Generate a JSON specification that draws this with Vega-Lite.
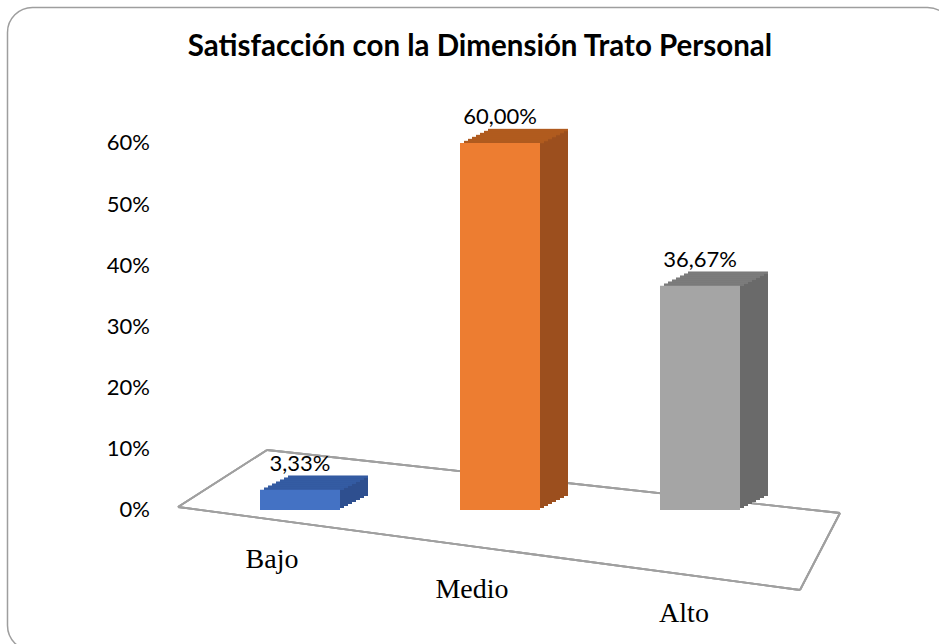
{
  "$schema": "https://vega.github.io/schema/vega-lite/v6.json",
  "width": 945,
  "height": 643,
  "autosize": "none",
  "padding": {"left": 7.5, "top": 7.5, "right": 0, "bottom": 0},
  "background": "white",
  "config": {
    "view": {"stroke": "#9e9e9e", "strokeWidth": 1.5, "cornerRadius": 25, "fill": "white"},
    "locale": {"number": {"decimal": ",", "thousands": ".", "grouping": [3], "currency": ["", " €"]}}
  },
  "title": {
    "text": "Satisfacción con la Dimensión Trato Personal",
    "font": "Lato",
    "fontSize": 29.5,
    "fontWeight": "bold",
    "color": "#000000",
    "anchor": "middle",
    "frame": "group",
    "baseline": "middle",
    "offset": -69
  },
  "data": {
    "values": [
      {"cat": "Bajo", "v": 0.0333},
      {"cat": "Medio", "v": 0.6},
      {"cat": "Alto", "v": 0.3667}
    ]
  },
  "encoding": {
    "x": {
      "field": "cat",
      "type": "nominal",
      "scale": {"domain": ["Bajo", "Medio", "Alto"], "paddingInner": 0.275, "paddingOuter": 1, "align": 0.55},
      "axis": {
        "title": null,
        "domain": false,
        "ticks": false,
        "labelAngle": 0,
        "offset": -105,
        "labelFont": "Liberation Serif",
        "labelFontSize": 28,
        "labelColor": "#000000",
        "labelBaseline": "top",
        "labelOffset": {"condition": {"test": "datum.value === 'Alto'", "value": -16}, "value": -28},
        "labelPadding": {"condition": [{"test": "datum.value === 'Medio'", "value": 30}, {"test": "datum.value === 'Alto'", "value": 54}], "value": 0}
      }
    },
    "y": {
      "field": "v",
      "type": "quantitative",
      "scale": {"domain": [-0.2297, 0.8215], "nice": false, "zero": false},
      "axis": {
        "values": [0, 0.1, 0.2, 0.3, 0.4, 0.5, 0.6],
        "format": ".0%",
        "domain": false,
        "ticks": false,
        "grid": false,
        "title": null,
        "offset": -146,
        "labelPadding": 4,
        "labelFont": "Lato",
        "labelFontSize": 22,
        "labelColor": "#000000"
      }
    }
  },
  "layer": [
    {"mark": {"type": "rule", "color": "#a0a0a0", "strokeWidth": 1.8, "xOffset": -122, "x2Offset": 100, "yOffset": -3, "y2Offset": 80},
     "encoding": {"x": {"datum": "Bajo", "type": "nominal"}, "x2": {"datum": "Alto"}, "y": {"datum": 0, "type": "quantitative"}, "y2": {"datum": 0}}},
    {"mark": {"type": "rule", "color": "#a0a0a0", "strokeWidth": 1.8, "xOffset": -33, "x2Offset": 140, "yOffset": -60, "y2Offset": 3},
     "encoding": {"x": {"datum": "Bajo", "type": "nominal"}, "x2": {"datum": "Alto"}, "y": {"datum": 0, "type": "quantitative"}, "y2": {"datum": 0}}},
    {"mark": {"type": "rule", "color": "#a0a0a0", "strokeWidth": 1.8, "xOffset": -122, "x2Offset": -33, "yOffset": -3, "y2Offset": -60},
     "encoding": {"x": {"datum": "Bajo", "type": "nominal"}, "x2": {"datum": "Bajo"}, "y": {"datum": 0, "type": "quantitative"}, "y2": {"datum": 0}}},
    {"mark": {"type": "rule", "color": "#a0a0a0", "strokeWidth": 1.8, "xOffset": 100, "x2Offset": 140, "yOffset": 80, "y2Offset": 3},
     "encoding": {"x": {"datum": "Alto", "type": "nominal"}, "x2": {"datum": "Alto"}, "y": {"datum": 0, "type": "quantitative"}, "y2": {"datum": 0}}},
    {
      "encoding": {"color": {"field": "cat", "type": "nominal", "scale": {"domain": ["Bajo", "Medio", "Alto"], "range": ["#2E4F8F", "#9C4F1E", "#6A6A6A"]}, "legend": null}},
      "layer": [
        {"mark": {"type": "bar", "width": 80, "xOffset": 4, "yOffset": -2, "y2Offset": -2}},
        {"mark": {"type": "bar", "width": 80, "xOffset": 8, "yOffset": -4, "y2Offset": -4}},
        {"mark": {"type": "bar", "width": 80, "xOffset": 12, "yOffset": -6, "y2Offset": -6}},
        {"mark": {"type": "bar", "width": 80, "xOffset": 16, "yOffset": -8, "y2Offset": -8}},
        {"mark": {"type": "bar", "width": 80, "xOffset": 20, "yOffset": -10, "y2Offset": -10}},
        {"mark": {"type": "bar", "width": 80, "xOffset": 24, "yOffset": -12, "y2Offset": -12}},
        {"mark": {"type": "bar", "width": 80, "xOffset": 28, "yOffset": -14, "y2Offset": -14}}
      ]
    },
    {
      "encoding": {"color": {"field": "cat", "type": "nominal", "scale": {"domain": ["Bajo", "Medio", "Alto"], "range": ["#365FA8", "#B8601F", "#828282"]}, "legend": null}},
      "layer": [
        {"mark": {"type": "tick", "size": 80, "thickness": 2.5, "xOffset": 4, "yOffset": -1}},
        {"mark": {"type": "tick", "size": 80, "thickness": 2.5, "xOffset": 8, "yOffset": -3}},
        {"mark": {"type": "tick", "size": 80, "thickness": 2.5, "xOffset": 12, "yOffset": -5}},
        {"mark": {"type": "tick", "size": 80, "thickness": 2.5, "xOffset": 16, "yOffset": -7}},
        {"mark": {"type": "tick", "size": 80, "thickness": 2.5, "xOffset": 20, "yOffset": -9}},
        {"mark": {"type": "tick", "size": 80, "thickness": 2.5, "xOffset": 24, "yOffset": -11}},
        {"mark": {"type": "tick", "size": 80, "thickness": 2.5, "xOffset": 28, "yOffset": -13}}
      ]
    },
    {
      "mark": {"type": "bar", "width": 80},
      "encoding": {"color": {"field": "cat", "type": "nominal", "scale": {"domain": ["Bajo", "Medio", "Alto"], "range": ["#4472C4", "#ED7D31", "#A5A5A5"]}, "legend": null}}
    },
    {
      "mark": {"type": "text", "baseline": "bottom", "dy": -14, "font": "Lato", "fontSize": 22, "color": "#000000"},
      "encoding": {"text": {"field": "v", "type": "quantitative", "format": ".2%"}}
    }
  ],
  "resolve": {"scale": {"color": "independent"}}
}
